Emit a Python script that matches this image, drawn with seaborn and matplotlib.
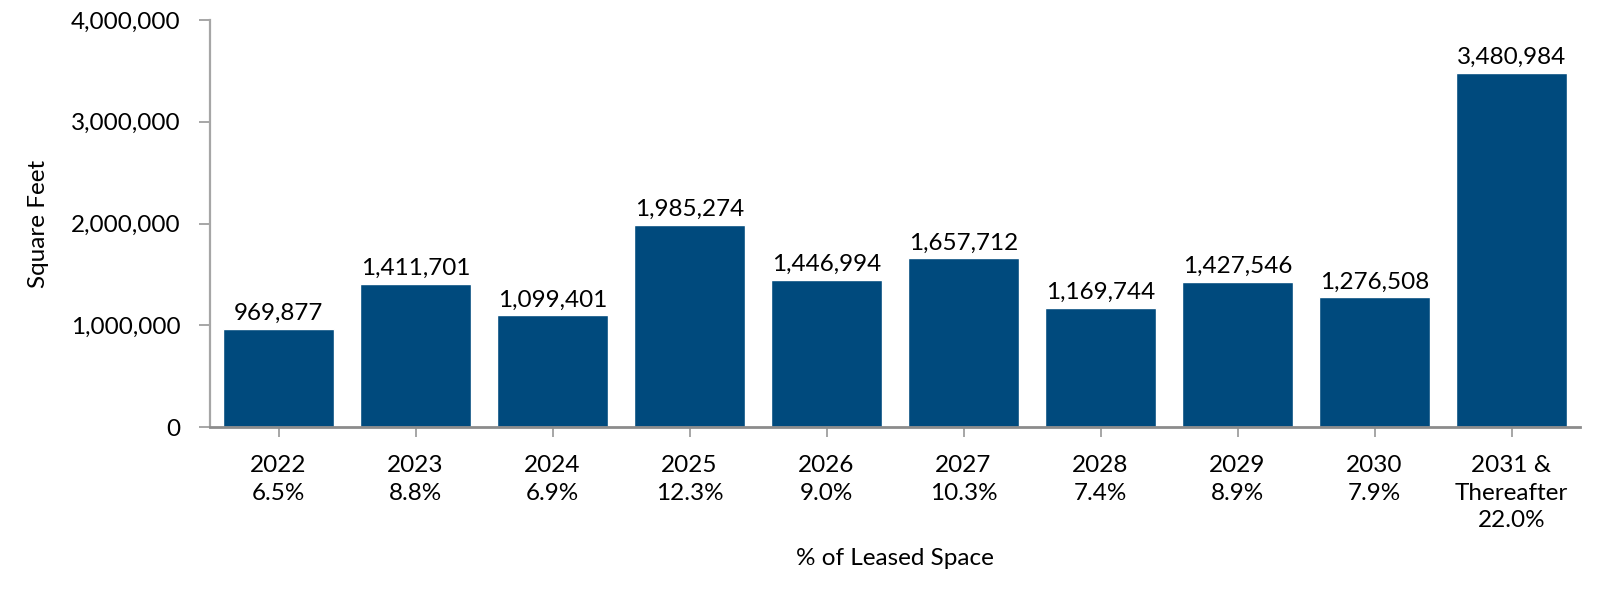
import matplotlib
matplotlib.use("Agg")
import matplotlib.pyplot as plt
import seaborn as sns
import pandas as pd
from matplotlib.ticker import FuncFormatter

years = ["2022", "2023", "2024", "2025", "2026", "2027", "2028", "2029", "2030", "2031 &\nThereafter"]
pct_leased = ["6.5%", "8.8%", "6.9%", "12.3%", "9.0%", "10.3%", "7.4%", "8.9%", "7.9%", "22.0%"]
square_feet = [969877, 1411701, 1099401, 1985274, 1446994, 1657712, 1169744, 1427546, 1276508, 3480984]
y_ticks = [0, 1000000, 2000000, 3000000, 4000000]

sns.set_theme(style="white")
plt.rcParams["font.family"] = ["Lato", "DejaVu Sans"]

labels = [f"{y}\n{p}" for y, p in zip(years, pct_leased)]
df = pd.DataFrame({"label": labels, "sqft": square_feet})

fig = plt.figure(figsize=(16, 5.9), dpi=100)
ax = fig.add_axes([0.13125, 0.2758, 0.85625, 0.6903])

sns.barplot(data=df, x="label", y="sqft", color="#004A7D", saturation=1,
            width=0.815, ax=ax)

ax.set_xlim(-0.5, len(labels) - 0.5)
ax.set_ylim(0, 4000000)
ax.set_yticks(y_ticks)
ax.yaxis.set_major_formatter(FuncFormatter(lambda v, p: f"{int(v):,}"))

for spine in ["top", "right"]:
    ax.spines[spine].set_visible(False)
ax.spines["left"].set_color("#A6A6A6")
ax.spines["left"].set_linewidth(1.6)
ax.spines["bottom"].set_color("#8C8C8C")
ax.spines["bottom"].set_linewidth(2)

fs = 17.5
ax.tick_params(axis="y", which="major", left=True, length=8, width=1.4,
               color="#A6A6A6", labelsize=fs, pad=13, labelcolor="black")
ax.tick_params(axis="x", which="major", bottom=True, length=7.5, width=1.4,
               color="#A6A6A6", labelsize=fs, pad=12.5, labelcolor="black")
for t in ax.get_xticklabels():
    t.set_linespacing(1.38)

for i, v in enumerate(square_feet):
    ax.annotate(f"{v:,}", xy=(i, v), xytext=(0, 3.5), textcoords="offset points",
                ha="center", va="bottom", fontsize=fs, color="black")

ax.set_xlabel("% of Leased Space", fontsize=fs, color="black", labelpad=12)
ax.set_ylabel("Square Feet", fontsize=fs, color="black", labelpad=16)

fig.savefig("out.png", dpi=100, facecolor="white")
